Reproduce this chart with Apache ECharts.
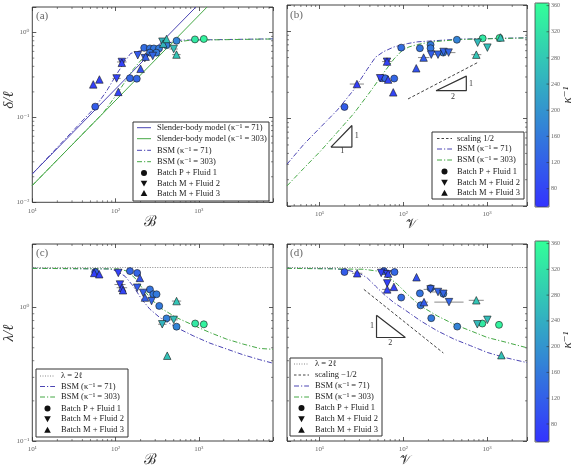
<!DOCTYPE html>
<html><head><meta charset="utf-8">
<script src="https://cdn.jsdelivr.net/npm/echarts@6/dist/echarts.min.js"></script>
<style>html,body{margin:0;padding:0;background:#fff}#c{width:577px;height:469px}</style>
</head><body><div id="c"></div><script>
// ---------- DATA ----------
// [x, y, kappa^-1]
const a_fluid1 = [[57,0.134,115],[149,0.29,130],[180,0.286,130],[221,0.66,140],[259,0.65,150],[289,0.65,155],[333,0.65,160],[259,0.58,150],[310,0.58,160],[410,0.71,170],[541,0.80,175],[900,0.83,330],[1150,0.84,345]];
const a_fluid2 = [[103,0.288,75],[119,0.45,75],[185,0.54,110],[225,0.50,120],[280,0.53,130],[366,0.78,250],[500,0.64,265]];
const a_fluid3 = [[54,0.245,70],[64,0.28,72],[108,0.20,80],[119,0.44,75],[200,0.374,100],[230,0.52,120],[374,0.74,250],[410,0.84,270],[540,0.55,275]];
const a_errors = [[103,0.288,92,115],[119,0.45,104,136],[500,0.64,445,560],[540,0.55,480,605]];

const b_fluid1 = [[19.9,0.136,115],[56,0.29,130],[61,0.29,130],[78,0.288,130],[94.6,0.65,140],[158,0.64,150],[212,0.70,160],[212,0.64,155],[300,0.57,165],[437,0.80,175],[887,0.83,330],[1412,0.84,345]];
const b_fluid2 = [[53,0.29,75],[64,0.448,75],[216,0.54,120],[260,0.54,125],[303,0.58,130],[348,0.57,130],[773,0.74,260],[1010,0.65,265]];
const b_fluid3 = [[28,0.249,70],[64,0.45,75],[66,0.28,80],[76,0.20,80],[143,0.377,100],[175,0.50,115],[745,0.54,275],[1450,0.85,270]];
const b_errors = [[28,0.249,23,34],[64,0.45,56,73],[175,0.50,150,205],[260,0.54,215,315],[348,0.57,290,420],[745,0.54,650,855]];

const c_fluid1 = [[57,1.85,115],[149,1.88,130],[182,1.82,130],[259,1.37,150],[284,1.26,155],[311,1.26,160],[335,1.03,160],[410,0.83,170],[541,0.72,175],[906,0.76,330],[1150,0.75,345]];
const c_fluid2 = [[108,1.82,75],[113,1.49,75],[182,1.41,110],[215,1.29,120],[271,1.12,130],[364,0.75,250],[500,0.81,265]];
const c_fluid3 = [[55.4,1.82,70],[63.7,1.78,72],[120,1.41,75],[123,1.35,80],[196,1.67,100],[226,1.19,120],[418,0.436,270],[541,1.12,275]];
const c_errors = [[113,1.49,97,132],[120,1.41,103,138],[364,0.75,325,410],[500,0.81,445,560],[541,1.12,475,615]];

const d_fluid1 = [[19.9,1.85,115],[58.7,1.88,130],[78.7,1.85,130],[94.6,1.19,140],[158,1.28,150],[161,1.04,155],[216,0.834,160],[212,1.40,160],[301,1.27,165],[441,0.721,175],[879,0.76,330],[1390,0.743,345]];
const d_fluid2 = [[54.6,1.82,75],[64.4,1.78,75],[64.4,1.52,75],[212,1.37,120],[260,1.31,125],[301,1.27,130],[352,1.10,130],[766,0.75,260],[1009,0.81,265]];
const d_fluid3 = [[28.2,1.81,70],[66,1.80,80],[77.4,1.43,80],[64.4,1.37,75],[144,1.69,100],[177,1.10,115],[745,1.135,275],[1483,0.44,270]];
const d_errors = [[28.2,1.81,24.5,32.5],[64.4,1.37,56,74],[212,1.37,175,255],[260,1.31,220,305],[352,1.10,235,525],[745,1.135,605,915],[177,1.10,158,198]];

// model curves [x, y]
const a_sb71 = [[10,0.0216],[925,2]];
const a_sb303 = [[10,0.0158],[1260,2]];
const a_bsm71 = [[10,0.0216],[56.6,0.131],[78.2,0.205],[103,0.322],[130,0.461],[152,0.568],[179,0.594],[284,0.662],[410,0.743],[593,0.813],[7800,0.843]];
const a_bsm303 = [[10,0.0158],[71.1,0.113],[93.8,0.164],[124,0.245],[163,0.368],[206,0.482],[271,0.578],[374,0.679],[541,0.769],[782,0.813],[7800,0.84]];
const b_bsm71 = [[4.1,0.0301],[6.52,0.0509],[10.3,0.0798],[16.3,0.125],[25.8,0.215],[37.2,0.368],[46.7,0.506],[58.7,0.587],[77.4,0.662],[112,0.723],[147,0.757],[458,0.813],[3000,0.843]];
const b_bsm303 = [[4.1,0.0170],[6.52,0.0271],[10.3,0.0425],[16.3,0.0697],[25.8,0.115],[40.6,0.205],[58.7,0.337],[77.4,0.482],[97.3,0.604],[117,0.662],[147,0.705],[209,0.753],[457,0.805],[3000,0.84]];
const c_bsm71 = [[10,1.97],[86,1.95],[103,1.88],[130,1.72],[163,1.45],[206,1.156],[259,0.973],[341,0.842],[541,0.709],[857,0.615],[1358,0.542],[2153,0.49],[3412,0.443],[5408,0.407],[7800,0.383]];
const c_bsm303 = [[10,1.97],[113,1.95],[136,1.88],[171,1.67],[215,1.37],[271,1.156],[341,1.0],[541,0.842],[857,0.739],[1358,0.651],[2153,0.581],[3412,0.533],[5408,0.494],[7800,0.487]];
const d_bsm71 = [[4.1,1.97],[15,1.96],[21.4,1.91],[29.6,1.82],[37.2,1.67],[46.7,1.45],[58.7,1.26],[77.4,1.09],[102,0.973],[161,0.796],[255,0.67],[403,0.581],[637,0.518],[1009,0.461],[1596,0.424],[3000,0.387]];
const d_bsm303 = [[4.1,1.97],[33.9,1.94],[48.9,1.88],[64.4,1.72],[84.8,1.5],[112,1.26],[161,1.03],[255,0.867],[403,0.751],[637,0.67],[1009,0.597],[1596,0.555],[3000,0.5]];
const c_lambda2 = [[10,2],[7800,2]];
const d_lambda2 = [[4.1,2],[3000,2]];
const b_scaling = [[114,0.168],[780,0.441]];
const d_scaling = [[33.9,1.37],[301,0.457]];
const b_slopeTri1 = [[13.7,0.0473],[24.4,0.0473],[24.4,0.0834],[13.7,0.0473]];
const b_slopeTri2 = [[246,0.209],[566,0.209],[566,0.307],[246,0.209]];
const d_slopeTri = [[48,0.877],[48,0.597],[106,0.597],[48,0.877]];
const colorbarTicks = [80,120,160,200,240,280,320,360];
const kappaRange = [52,364];

// ---------- STYLE / LAYOUT ----------
const SERIF = '"Liberation Serif","DejaVu Serif",serif';
const PURPLE = '#4b45b3', GREEN = '#45a845';
const DASHDOT = [5,2,1.2,2];
const grids = [
  {left:32.3, top:7, width:240.7, height:195.3},
  {left:287, top:5, width:240, height:201},
  {left:32.3, top:244, width:240.7, height:197},
  {left:287, top:244, width:240, height:197}
];
const xr = [[10,7800],[4.1,3000],[10,7800],[4.1,3000]];
const yr = [[0.01,2],[0.01,2],[0.1,3],[0.1,3]];

const SUP = {'0':'⁰','1':'¹','2':'²','3':'³','4':'⁴','-':'⁻'};
function powLabel(v){ const l=Math.log10(v), r=Math.round(l); if(Math.abs(l-r)>1e-6) return ''; return '10'+String(r).split('').map(c=>SUP[c]).join(''); }

const xAxes=[], yAxes=[];
const tickStyle = {inside:true, length:4, lineStyle:{color:'#333', width:0.8}};
for (let i=0;i<4;i++){
  xAxes.push({type:'log', gridIndex:i, min:xr[i][0], max:xr[i][1], position:'bottom', axisLine:{show:false}, axisTick:tickStyle, splitLine:{show:false},
    axisLabel:{formatter:powLabel, fontSize:7, color:'#666', fontFamily:SERIF, margin:5}});
  yAxes.push({type:'log', gridIndex:i, min:yr[i][0], max:yr[i][1], position:'left', axisLine:{show:false}, axisTick:tickStyle, splitLine:{show:false},
    axisLabel:{show:(i===0||i===2), formatter:powLabel, fontSize:7, color:'#666', fontFamily:SERIF, margin:3}});
}
for (let i=0;i<4;i++){
  xAxes.push({type:'log', gridIndex:i, min:xr[i][0], max:xr[i][1], position:'top', axisLine:{show:false}, axisTick:tickStyle, splitLine:{show:false}, axisLabel:{show:false}});
  yAxes.push({type:'log', gridIndex:i, min:yr[i][0], max:yr[i][1], position:'right', axisLine:{show:false}, axisTick:tickStyle, splitLine:{show:false}, axisLabel:{show:false}});
}

const series=[]; const scatterIdx=[[],[]];
function addLine(g,data,color,dash,width){ series.push({type:'line', xAxisIndex:g, yAxisIndex:g, data, showSymbol:false, symbol:'none', silent:true, lineStyle:{color, width:width||1, type:dash||'solid'}, z:3}); }
function addScatter(g,data,sym){ scatterIdx[g<2?0:1].push(series.length); series.push({type:'scatter', xAxisIndex:g, yAxisIndex:g, data, symbol: sym==='circle'?'circle':'triangle', symbolRotate: sym==='down'?180:0, symbolSize: sym==='circle'?7:7.5, itemStyle:{borderColor:'#1a1a1a', borderWidth:0.6, opacity:1}, z:5}); }
function addErrors(g,data){ series.push({type:'custom', xAxisIndex:g, yAxisIndex:g, data, silent:true, z:4, renderItem:(p,api)=>{ const a=api.coord([api.value(2),api.value(1)]), b=api.coord([api.value(3),api.value(1)]); return {type:'line', shape:{x1:a[0],y1:a[1],x2:b[0],y2:b[1]}, style:{stroke:'#8a8a8a', lineWidth:1}}; }}); }
function minorVals(lo,hi){ const out=[]; for(let e=Math.floor(Math.log10(lo)); e<=Math.ceil(Math.log10(hi)); e++) for(let m=2;m<=9;m++){ const v=m*Math.pow(10,e); if(v>lo*1.0001 && v<hi*0.9999) out.push(v);} return out; }
function addMinor(g){
  series.push({type:'custom', xAxisIndex:g, yAxisIndex:g, silent:true, z:2, data:minorVals(xr[g][0],xr[g][1]).map(v=>[v,yr[g][0]]),
    renderItem:(p,api)=>{ const cs=p.coordSys; const x=api.coord([api.value(0),api.value(1)])[0]; const b=cs.y+cs.height;
      return {type:'group', children:[{type:'line', shape:{x1:x,y1:b,x2:x,y2:b-2}, style:{stroke:'#333',lineWidth:0.6}},{type:'line', shape:{x1:x,y1:cs.y,x2:x,y2:cs.y+2}, style:{stroke:'#333',lineWidth:0.6}}]}; }});
  series.push({type:'custom', xAxisIndex:g, yAxisIndex:g, silent:true, z:2, data:minorVals(yr[g][0],yr[g][1]).map(v=>[xr[g][0],v]),
    renderItem:(p,api)=>{ const cs=p.coordSys; const y=api.coord([api.value(0),api.value(1)])[1]; const r=cs.x+cs.width;
      return {type:'group', children:[{type:'line', shape:{x1:cs.x,y1:y,x2:cs.x+2,y2:y}, style:{stroke:'#333',lineWidth:0.6}},{type:'line', shape:{x1:r,y1:y,x2:r-2,y2:y}, style:{stroke:'#333',lineWidth:0.6}}]}; }});
}
for (let g=0; g<4; g++) addMinor(g);

// (a)
addLine(0,a_sb71,PURPLE); addLine(0,a_sb303,GREEN);
addLine(0,a_bsm71,PURPLE,DASHDOT); addLine(0,a_bsm303,GREEN,DASHDOT);
addErrors(0,a_errors);
addScatter(0,a_fluid1,'circle'); addScatter(0,a_fluid2,'down'); addScatter(0,a_fluid3,'up');
// (b)
addLine(1,b_bsm71,PURPLE,DASHDOT); addLine(1,b_bsm303,GREEN,DASHDOT);
addLine(1,b_scaling,'#444',[3,2]);
addLine(1,b_slopeTri1,'#333',null,1.2); addLine(1,b_slopeTri2,'#333',null,1.2);
addErrors(1,b_errors);
addScatter(1,b_fluid1,'circle'); addScatter(1,b_fluid2,'down'); addScatter(1,b_fluid3,'up');
// (c)
addLine(2,c_lambda2,'#888',[1,1.5]);
addLine(2,c_bsm71,PURPLE,DASHDOT); addLine(2,c_bsm303,GREEN,DASHDOT);
addErrors(2,c_errors);
addScatter(2,c_fluid1,'circle'); addScatter(2,c_fluid2,'down'); addScatter(2,c_fluid3,'up');
// (d)
addLine(3,d_lambda2,'#888',[1,1.5]);
addLine(3,d_scaling,'#444',[3,2]);
addLine(3,d_bsm71,PURPLE,DASHDOT); addLine(3,d_bsm303,GREEN,DASHDOT);
addLine(3,d_slopeTri,'#333',null,1.2);
addErrors(3,d_errors);
addScatter(3,d_fluid1,'circle'); addScatter(3,d_fluid2,'down'); addScatter(3,d_fluid3,'up');

// ---------- GRAPHIC (legends, labels) ----------
const G=[];
function txt(x,y,text,o){ o=o||{}; G.push({type:'text', x, y, rotation:o.rot||0, z:110, style:{text, fontFamily:SERIF, fontSize:o.size||8.5, fontStyle:o.italic?'italic':'normal', fill:o.fill||'#222', align:o.align||'left', verticalAlign:'middle', textAlign:o.align||'left', textVerticalAlign:'middle'}}); }
function legend(box, rows, sx1, sx2, tx){
  G.push({type:'rect', z:100, shape:{x:box[0],y:box[1],width:box[2],height:box[3]}, style:{fill:'#fff', stroke:'#333', lineWidth:1}});
  rows.forEach(r=>{
    const cx=(sx1+sx2)/2;
    if (r.line) G.push({type:'line', z:105, shape:{x1:sx1,y1:r.y,x2:sx2,y2:r.y}, style:{stroke:r.line, lineWidth:1, lineDash:r.dash||null}});
    else if (r.sym==='circle') G.push({type:'circle', z:105, shape:{cx, cy:r.y, r:3}, style:{fill:'#111'}});
    else { const s=3.3; const pts = r.sym==='up' ? [[cx-s,r.y+s*0.8],[cx+s,r.y+s*0.8],[cx,r.y-s]] : [[cx-s,r.y-s*0.8],[cx+s,r.y-s*0.8],[cx,r.y+s]];
      G.push({type:'polygon', z:105, shape:{points:pts}, style:{fill:'#111'}}); }
    txt(tx, r.y, r.text, {size:8.5});
  });
}
legend([133,122,136,79], [
  {y:127.7, line:PURPLE, text:'Slender-body model (κ⁻¹ = 71)'},
  {y:138.7, line:GREEN, text:'Slender-body model (κ⁻¹ = 303)'},
  {y:150.3, line:PURPLE, dash:DASHDOT, text:'BSM (κ⁻¹ = 71)'},
  {y:161.7, line:GREEN, dash:DASHDOT, text:'BSM (κ⁻¹ = 303)'},
  {y:173, sym:'circle', text:'Batch P + Fluid 1'},
  {y:183.3, sym:'down', text:'Batch M + Fluid 2'},
  {y:193.3, sym:'up', text:'Batch M + Fluid 3'}], 137, 151, 157);
legend([432,132,92,67], [
  {y:138.5, line:'#444', dash:[2.5,2], text:'scaling 1/2'},
  {y:149, line:PURPLE, dash:DASHDOT, text:'BSM (κ⁻¹ = 71)'},
  {y:160, line:GREEN, dash:DASHDOT, text:'BSM (κ⁻¹ = 303)'},
  {y:171.5, sym:'circle', text:'Batch P + Fluid 1'},
  {y:182.5, sym:'down', text:'Batch M + Fluid 2'},
  {y:193, sym:'up', text:'Batch M + Fluid 3'}], 437, 452, 457);
legend([36,369,92,68], [
  {y:376, line:'#888', dash:[1,1.5], text:'λ = 2ℓ'},
  {y:386.5, line:PURPLE, dash:DASHDOT, text:'BSM (κ⁻¹ = 71)'},
  {y:397, line:GREEN, dash:DASHDOT, text:'BSM (κ⁻¹ = 303)'},
  {y:408.5, sym:'circle', text:'Batch P + Fluid 1'},
  {y:419, sym:'down', text:'Batch M + Fluid 2'},
  {y:430, sym:'up', text:'Batch M + Fluid 3'}], 40, 55, 61);
legend([290,358,92,78], [
  {y:364, line:'#888', dash:[1,1.5], text:'λ = 2ℓ'},
  {y:375, line:'#444', dash:[2.5,2], text:'scaling −1/2'},
  {y:386, line:PURPLE, dash:DASHDOT, text:'BSM (κ⁻¹ = 71)'},
  {y:397, line:GREEN, dash:DASHDOT, text:'BSM (κ⁻¹ = 303)'},
  {y:408, sym:'circle', text:'Batch P + Fluid 1'},
  {y:419, sym:'down', text:'Batch M + Fluid 2'},
  {y:430, sym:'up', text:'Batch M + Fluid 3'}], 294, 309, 315);

txt(36,16,'(a)',{size:11,fill:'#666'}); txt(290,15,'(b)',{size:11,fill:'#666'});
txt(36,253,'(c)',{size:11,fill:'#666'}); txt(290,253,'(d)',{size:11,fill:'#666'});
txt(150,222,'ℬ',{size:15,align:'center',fill:'#333'}); txt(411,225,'𝒱',{size:13,align:'center',fill:'#333'});
txt(150,460,'ℬ',{size:15,align:'center',fill:'#333'}); txt(405,461,'𝒱',{size:13,align:'center',fill:'#333'});
txt(9,100,'δ/ℓ',{size:15,italic:true,align:'center',rot:Math.PI/2,fill:'#333'});
txt(9,333,'λ/ℓ',{size:15,italic:true,align:'center',rot:Math.PI/2,fill:'#333'});
txt(568,95,'κ⁻¹',{size:13,italic:true,align:'center',rot:Math.PI/2,fill:'#333'});
txt(568,340,'κ⁻¹',{size:13,italic:true,align:'center',rot:Math.PI/2,fill:'#333'});
// slope triangle labels
txt(356.7,136,'1',{size:8,align:'center',fill:'#333'}); txt(342.3,150.7,'1',{size:8,align:'center',fill:'#333'});
txt(471,84.3,'1',{size:8,align:'center',fill:'#333'}); txt(453,97.3,'2',{size:8,align:'center',fill:'#333'});
txt(372,325.7,'1',{size:8,align:'center',fill:'#333'}); txt(390.3,343.3,'2',{size:8,align:'center',fill:'#333'});
// colorbars
const cbars=[{x:535,y:3,h:204},{x:535,y:241,h:201}];
cbars.forEach(cb=>{
  G.push({type:'rect', z:100, shape:{x:cb.x,y:cb.y,width:14,height:cb.h}, style:{fill:'none', stroke:'#444', lineWidth:0.8}});
  colorbarTicks.forEach(v=>{ const y=cb.y+(kappaRange[1]-v)/(kappaRange[1]-kappaRange[0])*cb.h;
    G.push({type:'line', z:101, shape:{x1:cb.x+14,y1:y,x2:cb.x+11.5,y2:y}, style:{stroke:'#333',lineWidth:0.6}});
    txt(cb.x+16, y, String(v), {size:6, fill:'#666'}); });
});

const option = {
  animation:false,
  textStyle:{fontFamily:SERIF},
  grid: grids.map(g=>Object.assign({show:true, borderColor:'#444', borderWidth:1, backgroundColor:'#fff', containLabel:false}, g)),
  xAxis:xAxes, yAxis:yAxes,
  visualMap: cbars.map((cb,k)=>({type:'continuous', min:kappaRange[0], max:kappaRange[1], dimension:2, seriesIndex:scatterIdx[k],
    inRange:{color:['#3333ff','#33ff99']}, calculable:false, show:true, orient:'vertical', left:cb.x, top:cb.y, itemWidth:14, itemHeight:cb.h, padding:0, text:null, hoverLink:false})),
  series, graphic:{elements:G}
};
const chart = echarts.init(document.getElementById('c'), null, {renderer:'canvas'});
chart.setOption(option);
</script></body></html>
